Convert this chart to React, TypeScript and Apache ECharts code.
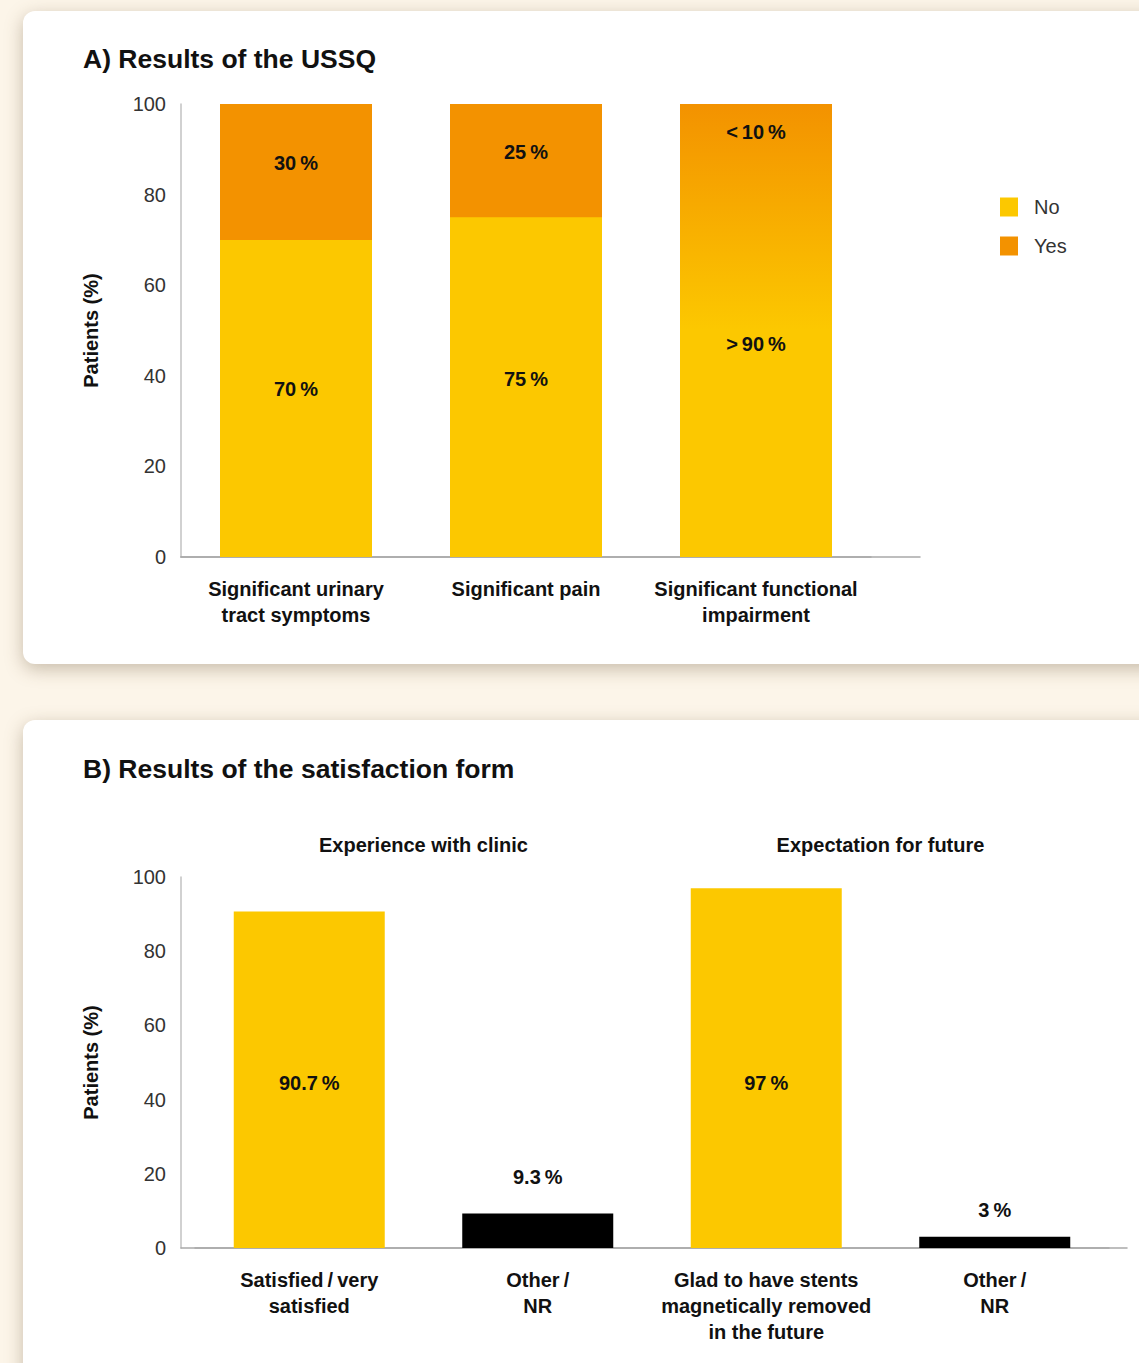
import React, { useEffect, useRef } from 'react';
import * as echarts from 'echarts';

// ---------- data ----------
const categoriesA = ['Significant urinary\ntract symptoms', 'Significant pain', 'Significant functional\nimpairment'];
const noValues = [70, 75, 91];
const yesValues = [30, 25, 9];
const noLabels = ['70\u2009%', '75\u2009%', '>\u200990\u2009%'];
const yesLabels = ['30\u2009%', '25\u2009%', '<\u200910\u2009%'];
const legendNames = ['No', 'Yes'];

const categoriesB = [
  'Satisfied\u2009/\u2009very\nsatisfied',
  'Other\u2009/\nNR',
  'Glad to have stents\nmagnetically removed\nin the future',
  'Other\u2009/\nNR',
];
const valuesB = [90.7, 9.3, 97, 3];
const labelsB = ['90.7\u2009%', '9.3\u2009%', '97\u2009%', '3\u2009%'];
const groupsB = ['Experience with clinic', 'Expectation for future'];

const yMin = 0;
const yMax = 100;
const yStep = 20;

const titleA = 'A) Results of the USSQ';
const titleB = 'B) Results of the satisfaction form';
const yName = 'Patients (%)';

// ---------- styles ----------
const FONT = '"Liberation Sans", Arial, Helvetica, sans-serif';
const YELLOW = '#fcc800';
const ORANGE = '#f39200';
const noOffsets = [-9, -8, -7];
const yesTopOffsets = [44, 33, 13];
const topDistB = [0, 26, 0, 17];

function buildOption() {
  const yAxisBase = (grid: number, offset: number) => ({
    type: 'value',
    gridIndex: grid,
    min: yMin,
    max: yMax,
    interval: yStep,
    offset,
    axisLine: { show: true, lineStyle: { color: '#c2c2c2', width: 1.5 } },
    axisTick: { show: false },
    splitLine: { show: false },
    axisLabel: { color: '#333', fontSize: 20, fontFamily: FONT, margin: 15 },
    name: yName,
    nameLocation: 'middle',
    nameRotate: 90,
    nameGap: 80,
    nameTextStyle: { fontWeight: 'bold', fontSize: 20, color: '#111', fontFamily: FONT },
  });
  const baselineX = (grid: number) => ({
    type: 'category',
    gridIndex: grid,
    data: [''],
    axisLine: { show: true, lineStyle: { color: '#a9a9a9', width: 1.5 } },
    axisTick: { show: false },
    axisLabel: { show: false },
  });
  const hiddenY = (grid: number) => ({ type: 'value', gridIndex: grid, min: yMin, max: yMax, show: false });
  const catLabel = { fontSize: 20, fontWeight: 'bold', color: '#111', fontFamily: FONT, lineHeight: 26, margin: 19, interval: 0 };
  const barLabel = { show: true, fontSize: 20, fontWeight: 'bold', color: '#111', fontFamily: FONT };

  // whole-column gradient for the "functional impairment" column (orange top fading into yellow)
  const gradColumn = new echarts.graphic.LinearGradient(0, 0, 0, 1, [
    { offset: 0, color: ORANGE },
    { offset: 0.5, color: YELLOW },
    { offset: 1, color: YELLOW },
  ]);
  const titleStyle = { fontSize: 26.5, fontWeight: 'bold', color: '#111', fontFamily: FONT };
  const totals = yesValues.map((v, i) => v + noValues[i]);

  return {
    animation: false,
    title: [
      { text: titleA, left: 83, top: 45, padding: 0, textStyle: titleStyle },
      { text: titleB, left: 83, top: 755, padding: 0, textStyle: titleStyle },
    ],
    legend: {
      data: legendNames,
      orient: 'vertical',
      left: 1000,
      top: 197,
      padding: 0,
      itemWidth: 18,
      itemHeight: 19,
      itemGap: 19,
      icon: 'rect',
      selectedMode: false,
      textStyle: { fontSize: 20, color: '#333', fontFamily: FONT, padding: [0, 0, 0, 11] },
    },
    grid: [
      { left: 181, top: 104, width: 690, height: 453 },
      { left: 181, top: 104, width: 739, height: 453 },
      { left: 195, top: 877, width: 914, height: 371 },
      { left: 181, top: 877, width: 946, height: 371 },
    ],
    xAxis: [
      {
        type: 'category', gridIndex: 0, data: categoriesA,
        axisLine: { show: true, lineStyle: { color: '#a9a9a9', width: 1.5 } },
        axisTick: { show: false }, axisLabel: catLabel,
      },
      baselineX(1),
      {
        type: 'category', gridIndex: 2, data: categoriesB,
        axisLine: { show: true, lineStyle: { color: '#a9a9a9', width: 1.5 } },
        axisTick: { show: false }, axisLabel: catLabel,
      },
      {
        type: 'category', gridIndex: 2, position: 'top', data: groupsB,
        axisLine: { show: false }, axisTick: { show: false },
        axisLabel: { fontSize: 20, fontWeight: 'bold', color: '#111', fontFamily: FONT, margin: 22, interval: 0 },
      },
      baselineX(3),
    ],
    yAxis: [yAxisBase(0, 0), hiddenY(1), yAxisBase(2, 14), hiddenY(3)],
    series: [
      {
        // "Yes" drawn as the full column (No + Yes) behind the "No" bar
        type: 'bar', name: 'Yes', xAxisIndex: 0, yAxisIndex: 0, barWidth: 152, barGap: '-100%',
        itemStyle: { color: ORANGE },
        label: { ...barLabel, position: 'insideTop', distance: 5, formatter: (p: any) => yesLabels[p.dataIndex] },
        data: totals.map((v, i) => ({
          value: v,
          itemStyle: i === 2 ? { color: gradColumn } : undefined,
          label: { offset: [0, yesTopOffsets[i]] },
        })),
      },
      {
        type: 'bar', name: 'No', xAxisIndex: 0, yAxisIndex: 0, barWidth: 152, barGap: '-100%',
        itemStyle: { color: YELLOW },
        label: { ...barLabel, position: 'inside', formatter: (p: any) => noLabels[p.dataIndex] },
        data: noValues.map((v, i) => ({
          value: v,
          itemStyle: i === 2 ? { color: 'rgba(0,0,0,0)' } : undefined,
          label: { offset: [0, noOffsets[i]] },
        })),
      },
      {
        type: 'bar', name: 'Satisfaction', xAxisIndex: 2, yAxisIndex: 2, barWidth: 151,
        label: { ...barLabel, formatter: (p: any) => labelsB[p.dataIndex] },
        data: valuesB.map((v, i) => ({
          value: v,
          itemStyle: { color: i % 2 === 0 ? YELLOW : '#000' },
          label: i % 2 === 0 ? { position: 'insideBottom', distance: 155 } : { position: 'top', distance: topDistB[i] },
        })),
      },
    ],
  };
}

export default function App() {
  const ref = useRef<HTMLDivElement>(null);
  useEffect(() => {
    if (!ref.current) return;
    const chart = echarts.init(ref.current, null, { renderer: 'svg' });
    chart.setOption(buildOption() as any);
    return () => chart.dispose();
  }, []);
  const card: React.CSSProperties = {
    position: 'absolute',
    left: 23,
    width: 1200,
    background: '#fff',
    borderRadius: 12,
    boxShadow: '0 5px 18px rgba(115, 95, 65, 0.38)',
  };
  return (
    <div style={{ position: 'absolute', left: 0, top: 0, width: 1139, height: 1363, overflow: 'hidden', background: '#fcf5e9' }}>
      <div style={{ ...card, top: 11, height: 653 }} />
      <div style={{ ...card, top: 720, height: 800 }} />
      <div ref={ref} style={{ position: 'absolute', left: 0, top: 0, width: 1139, height: 1363 }} />
    </div>
  );
}
